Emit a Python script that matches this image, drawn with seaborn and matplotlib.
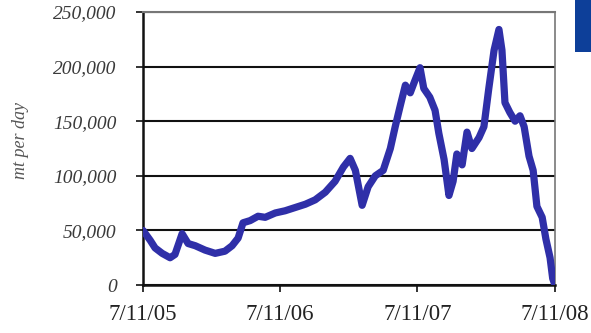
import matplotlib
matplotlib.use("Agg")
import matplotlib.pyplot as plt
import matplotlib.patches as mpatches
import seaborn as sns
import pandas as pd

# Daily throughput series (mt per day)
dates = [
    "2005-07-11", "2005-07-30", "2005-08-12", "2005-08-31", "2005-09-21", "2005-10-04",
    "2005-10-23", "2005-11-08", "2005-11-27", "2005-12-23", "2006-01-19", "2006-02-14",
    "2006-03-05", "2006-03-21", "2006-04-03", "2006-04-22", "2006-05-13", "2006-06-01",
    "2006-06-28", "2006-07-24", "2006-08-20", "2006-09-16", "2006-10-12", "2006-11-08",
    "2006-12-04", "2006-12-26", "2007-01-13", "2007-01-27", "2007-02-14", "2007-03-02",
    "2007-03-21", "2007-04-11", "2007-04-30", "2007-05-13", "2007-05-27", "2007-06-09",
    "2007-06-22", "2007-07-03", "2007-07-18", "2007-07-28", "2007-08-13", "2007-08-27",
    "2007-09-06", "2007-09-20", "2007-10-03", "2007-10-14", "2007-10-24", "2007-11-07",
    "2007-11-20", "2007-12-03", "2007-12-22", "2008-01-04", "2008-01-17", "2008-01-31",
    "2008-02-13", "2008-02-21", "2008-02-29", "2008-03-13", "2008-03-27", "2008-04-09",
    "2008-04-20", "2008-05-03", "2008-05-14", "2008-05-24", "2008-06-07", "2008-06-17",
    "2008-06-28", "2008-07-05", "2008-07-11",
]
throughput = [
    50000, 41000, 34000, 29000, 25000, 28000,
    47000, 38000, 36000, 32000, 29000, 31000,
    36000, 43000, 57000, 59000, 63000, 62000,
    66000, 68000, 71000, 74000, 78000, 85000,
    95000, 108000, 116000, 105000, 73000, 90000,
    100000, 105000, 125000, 145000, 165000, 183000,
    176000, 186000, 199000, 180000, 172000, 160000,
    139000, 115000, 82000, 95000, 120000, 110000,
    140000, 125000, 135000, 145000, 180000, 215000,
    234000, 215000, 167000, 158000, 150000, 155000,
    145000, 118000, 105000, 72000, 62000, 42000,
    25000, 6000, 0,
]

y_ticks = [0, 50000, 100000, 150000, 200000, 250000]
x_tick_dates = ["2005-07-11", "2006-07-11", "2007-07-11", "2008-07-11"]
x_tick_labels = ["7/11/05", "7/11/06", "7/11/07", "7/11/08"]
y_label = "mt per day"

df = pd.DataFrame({"date": pd.to_datetime(dates), "throughput": throughput})

sns.set_theme(style="white")
plt.rcParams["font.family"] = ["Liberation Serif", "DejaVu Serif"]

fig = plt.figure(figsize=(5.91, 3.33), dpi=100)
ax = fig.add_axes([0.242, 0.144, 0.697, 0.820])

sns.lineplot(data=df, x="date", y="throughput", ax=ax, color="#2F2FA8",
             linewidth=5.2, solid_joinstyle="round", solid_capstyle="round", zorder=3)

ax.set_xlim(pd.Timestamp(x_tick_dates[0]), pd.Timestamp(x_tick_dates[-1]))
ax.set_ylim(0, 250000)

ax.set_yticks(y_ticks)
ax.set_yticklabels([f"{v:,}" for v in y_ticks], fontstyle="italic", fontsize=14, color="#3a3a3a")
ax.set_xticks(pd.to_datetime(x_tick_dates))
ax.set_xticklabels(x_tick_labels, fontsize=16.5, color="#222222")

ax.yaxis.grid(True, color="#111111", linewidth=1.5)
ax.xaxis.grid(False)
ax.tick_params(axis="both", which="major", direction="out", length=5, width=1.2,
               color="#111111", left=True, bottom=True)
ax.tick_params(axis="y", pad=14)
ax.tick_params(axis="x", pad=9)

ax.spines["left"].set_color("#111111")
ax.spines["left"].set_linewidth(1.8)
ax.spines["bottom"].set_color("#111111")
ax.spines["bottom"].set_linewidth(1.8)
ax.spines["top"].set_color("#777777")
ax.spines["top"].set_linewidth(1.5)
ax.spines["right"].set_color("#777777")
ax.spines["right"].set_linewidth(1.2)

ax.set_xlabel("")
ax.set_ylabel("")
fig.text(0.034, 0.577, y_label, rotation=90, fontstyle="italic", fontsize=13,
         color="#555555", ha="center", va="center")

# Blue corner tab at top right
fig.patches.append(mpatches.Rectangle((0.973, 0.843), 0.03, 0.16, transform=fig.transFigure,
                                      facecolor="#0D3F99", edgecolor="none"))

fig.savefig("out.png", dpi=100)
